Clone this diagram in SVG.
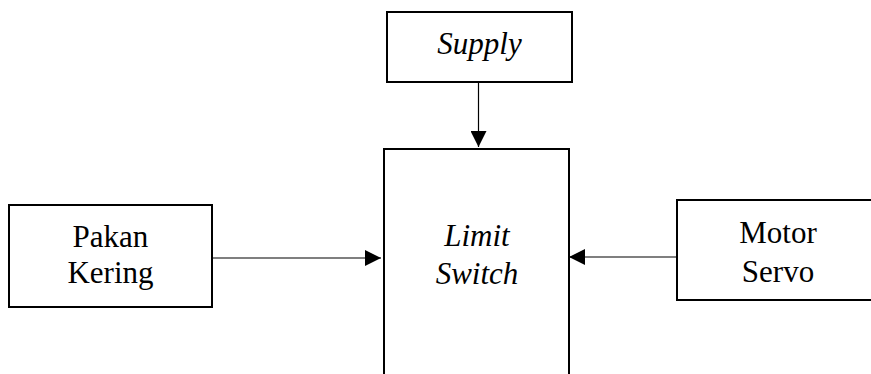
<svg xmlns="http://www.w3.org/2000/svg" width="871" height="374" viewBox="0 0 871 374">
  <style>
    .box { fill: #ffffff; stroke: #000000; stroke-width: 2; }
    .wire { fill: none; stroke: #000000; stroke-width: 1.2; }
    .lbl { font-size: 31px; fill: #000000; text-anchor: middle; }
    .it { font-style: italic; }
  </style>
  <defs>
    <marker id="arrow" viewBox="0 0 16 16" refX="16" refY="8" markerWidth="16" markerHeight="16" markerUnits="userSpaceOnUse" orient="auto">
      <path d="M0,0 L16,8 L0,16 Z" fill="#000000"/>
    </marker>
  </defs>
  <rect width="871" height="374" fill="#ffffff"/>

  <g font-family="'Liberation Serif', 'Times New Roman', serif">
    <g id="supply">
      <rect class="box" x="387" y="12" width="185" height="70"/>
      <text class="lbl it" x="479.5" y="54">Supply</text>
    </g>

    <g id="limit-switch">
      <rect class="box" x="384" y="149" width="185" height="240"/>
      <text class="lbl it" x="477" y="246">Limit</text>
      <text class="lbl it" x="477" y="284">Switch</text>
    </g>

    <g id="pakan-kering">
      <rect class="box" x="9" y="205" width="203" height="102"/>
      <text class="lbl" x="110.5" y="247">Pakan</text>
      <text class="lbl" x="110.5" y="283">Kering</text>
    </g>

    <g id="motor-servo">
      <rect class="box" x="677" y="200" width="210" height="100"/>
      <text class="lbl" x="778" y="243">Motor</text>
      <text class="lbl" x="778" y="282">Servo</text>
    </g>
  </g>

  <g id="connectors">
    <line class="wire" x1="478.5" y1="83" x2="478.5" y2="147" marker-end="url(#arrow)"/>
    <line class="wire" x1="213" y1="258" x2="381" y2="258" marker-end="url(#arrow)"/>
    <line class="wire" x1="676" y1="257" x2="569" y2="257" marker-end="url(#arrow)"/>
  </g>
</svg>
